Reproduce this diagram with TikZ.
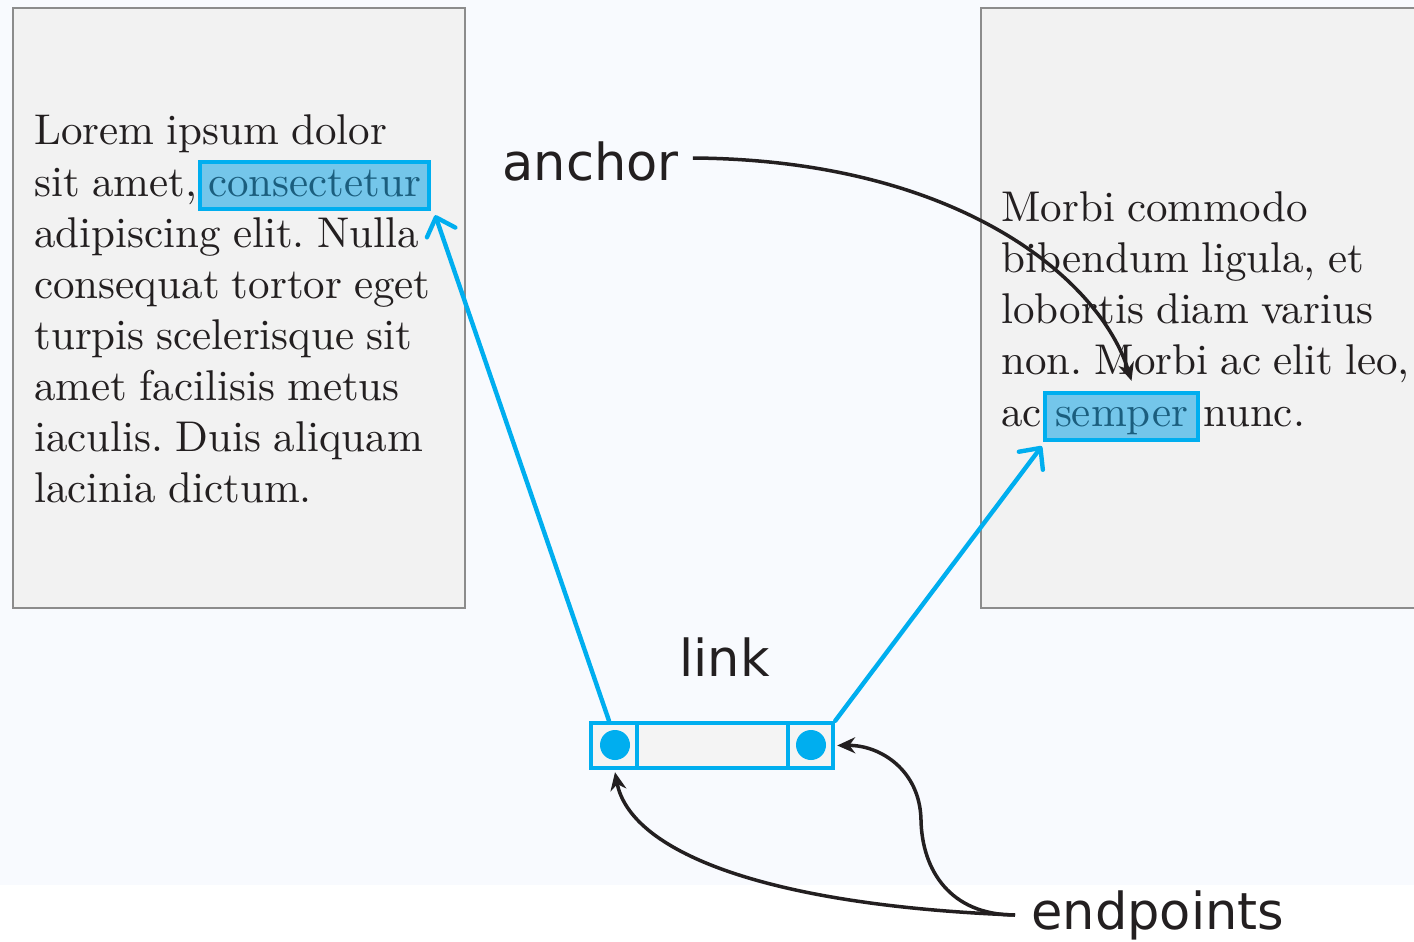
\documentclass[tikz,border=0pt]{standalone}
\usepackage{fontspec}
\newfontfamily\labelfont{DejaVu Sans}
\newfontfamily\bodyfont{lmroman10-regular.otf}[WordSpace=0.85]
\frenchspacing
\usetikzlibrary{arrows.meta,calc}
\definecolor{bgc}{HTML}{F8FAFE}
\definecolor{boxfill}{HTML}{F2F2F2}
\definecolor{boxline}{HTML}{8C8C8C}
\definecolor{linkblue}{HTML}{00AEEF}
\definecolor{hlfill}{HTML}{74C6EA}
\definecolor{hltext}{HTML}{1B5E7E}
\definecolor{ink}{HTML}{231F20}
\definecolor{cellfill}{HTML}{F4F4F4}
\tikzset{
  page/.style={fill=boxfill, draw=boxline, line width=1pt},
  txt/.style={anchor=base west, inner sep=0pt, text=ink, font=\bodyfont\fontsize{21.5}{26}\selectfont},
  hl/.style={anchor=base, draw=linkblue, fill=hlfill, line width=2.2pt, text=hltext,
    inner xsep=0pt, inner ysep=0pt, font=\bodyfont\fontsize{21.5}{26}\selectfont},
  lbl/.style={anchor=base west, inner sep=0pt, text=ink, font=\labelfont\fontsize{25.5}{30}\selectfont},
  cell/.style={draw=linkblue, line width=2.2pt, fill=cellfill, minimum height=22.5pt, inner sep=0pt},
  dot/.style={circle, fill=linkblue, minimum size=15pt, inner sep=0pt},
  bluearrow/.style={draw=linkblue, line width=2.2pt, line cap=round, -{Straight Barb[length=8pt,width=15pt,round]}},
  blackarrow/.style={draw=ink, line width=1.75pt, -{Stealth[length=9pt,width=8pt]}}
}
\begin{document}
\begin{tikzpicture}[x=0.5pt,y=-0.5pt]
\useasboundingbox (0,0) rectangle (1414,942);
\fill[bgc] (0,0) rectangle (1414,885);
\fill[white] (0,885) rectangle (1414,942);
% left page
\path[page] (13,8) rectangle (465,608);
% right page
\fill[boxfill] (981,8) rectangle (1420,608);
\draw[boxline, line width=1pt] (1420,8) -- (981,8) -- (981,608) -- (1420,608);
% left text
\node[txt] (l1) at (34,144) {Lorem ipsum dolor};
\node[txt] (l2) at (34,196) {sit amet,};
\node[hl, minimum width=114.5pt, text height=17pt, text depth=6.5pt] (hl1) at (314.5,196) {consectetur};
\node[txt] (l3) at (34,247) {adipiscing elit. Nulla};
\node[txt] (l4) at (34,298) {consequat tortor eget};
\node[txt] (l5) at (34,349) {turpis scelerisque sit};
\node[txt] (l6) at (34,400) {amet facilisis metus};
\node[txt] (l7) at (34,451) {iaculis. Duis aliquam};
\node[txt] (l8) at (34,502) {lacinia dictum.};
% right text
\node[txt] (r1) at (1001,221) {Morbi commodo};
\node[txt] (r2) at (1001,272) {bibendum ligula, et};
\node[txt] (r3) at (1001,323) {lobortis diam varius};
\node[txt] (r4) at (1001,374) {non. Morbi ac elit leo,};
\node[txt] (r5) at (1001,426) {ac};
\node[hl, minimum width=76.5pt, text height=16.5pt, text depth=7pt] (hl2) at (1121.5,426) {semper};
\node[txt] (r6) at (1203,426) {nunc.};
% labels
\node[lbl] (anch) at (502,180) {anchor};
\node[lbl] (lnk) at (679,676) {link};
\node[lbl] (ep) at (1031,929) {endpoints};
% link
\node[cell, minimum width=75.5pt] (mc) at (712.5,745.5) {};
\node[cell, minimum width=23pt] (lc) at (614,745.5) {};
\node[cell, minimum width=22.5pt] (rc) at (810.5,745.5) {};
\node[dot] (ld) at (615,745) {};
\node[dot] (rd) at (811,745) {};
% blue connectors
\draw[bluearrow] ($(lc.north)+(-5,0)$) -- ($(hl1.south east)+(4,4)$);
\draw[bluearrow] (rc.north east) -- ($(hl2.south west)+(-1,4)$);
% anchor connector
\coordinate (ancstart) at ($(anch.base east)+(14,-22)$);
\draw[blackarrow] (ancstart) .. controls (960,160) and (1100,280) .. ($(hl2.north)+(10,-10)$);
% endpoints connectors
\coordinate (epstart) at ($(ep.base west)+(-16,-14)$);
\draw[blackarrow] (epstart) .. controls (760,905) and (630,850) .. ($(lc.south)+(1,2)$);
\draw[blackarrow] (epstart) .. controls (950,915) and (922,870) .. (921,820) .. controls (920,770) and (880,745) .. ($(rc.east)+(2,0)$);
\end{tikzpicture}
\end{document}
